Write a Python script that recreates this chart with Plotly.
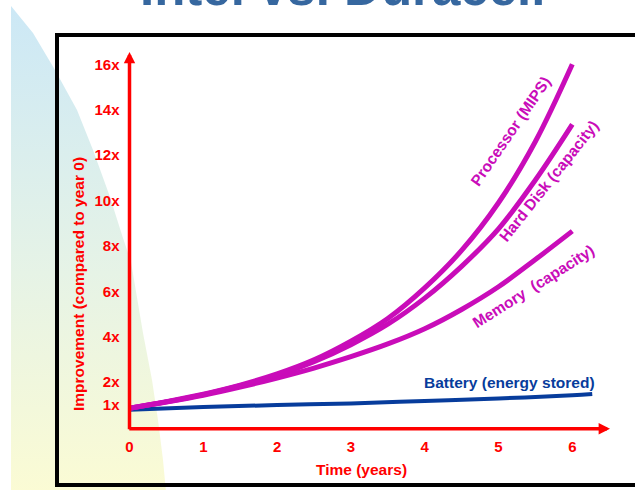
import plotly.graph_objects as go

# ---- data ----------------------------------------------------------------
years = [0, 0.5, 1, 1.5, 2, 2.5, 3, 3.5, 4, 4.5, 5, 5.5, 6]
processor = [0.85, 1.14, 1.47, 1.87, 2.36, 2.98, 3.8, 4.8, 6.15, 7.8, 9.9, 12.6, 16.0]
hard_disk = [0.85, 1.13, 1.45, 1.84, 2.3, 2.9, 3.65, 4.55, 5.7, 7.1, 8.75, 10.9, 13.35]
memory = [0.85, 1.12, 1.42, 1.78, 2.18, 2.62, 3.12, 3.68, 4.35, 5.2, 6.2, 7.4, 8.65]

battery_years = [0, 1, 2, 3, 4, 5, 6, 6.27]
battery = [0.78, 0.9, 0.99, 1.06, 1.17, 1.28, 1.42, 1.48]

x_ticks = [0, 1, 2, 3, 4, 5, 6]
x_tick_text = ["0", "1", "2", "3", "4", "5", "6"]
y_ticks = [1, 2, 4, 6, 8, 10, 12, 14, 16]
y_tick_text = ["1x", "2x", "4x", "6x", "8x", "10x", "12x", "14x", "16x"]

# ---- page geometry (pixels) ---------------------------------------------
W, H = 635, 490
PX_X0, PX_PER_X = 129.5, 73.8      # pixel column of year 0, pixels per year
PX_Y0, PX_PER_Y = 427.5, 22.7      # pixel row of 0x, pixels per unit


def px_x(px):
    return (px - PX_X0) / PX_PER_X


def px_y(py):
    return (PX_Y0 - py) / PX_PER_Y


RED = "#ff0000"
MAGENTA = "#c90cb9"
BLUE = "#073c9c"
FONT = "Liberation Sans, Arial, sans-serif"

fig = go.Figure()

# slide decoration: soft blue-to-yellow swoosh on the left
swoosh_px = [(11, 6), (33, 33), (55, 70), (77, 110), (93, 150), (110, 197),
             (122, 235), (131, 262), (143, 333), (152, 380), (158, 420),
             (163, 460), (166, 492), (11, 492), (11, 6)]
fig.add_trace(go.Scatter(
    x=[px_x(p[0]) for p in swoosh_px],
    y=[px_y(p[1]) for p in swoosh_px],
    mode="lines", line=dict(width=0), fill="toself",
    fillgradient=dict(type="vertical",
                      colorscale=[[0, "#fbfbd4"], [0.45, "#e6f3e6"],
                                  [1, "#cce8f6"]]),
    hoverinfo="skip", showlegend=False))

# series
fig.add_trace(go.Scatter(x=battery_years, y=battery, mode="lines",
                         line=dict(color=BLUE, width=4, shape="spline"),
                         showlegend=False, name="Battery"))
for vals, name in [(memory, "Memory"), (hard_disk, "Hard Disk"),
                   (processor, "Processor")]:
    fig.add_trace(go.Scatter(x=years, y=vals, mode="lines",
                             line=dict(color=MAGENTA, width=5, shape="spline"),
                             showlegend=False, name=name))

annotations = []

# axis lines with arrowheads
y_base = px_y(428.7)
annotations.append(dict(x=0, y=px_y(52), ax=0, ay=px_y(430.7),
                        xref="x", yref="y", axref="x", ayref="y", text="",
                        showarrow=True, arrowhead=2, arrowsize=0.65,
                        arrowwidth=3.5, arrowcolor=RED))
annotations.append(dict(x=px_x(610), y=y_base, ax=px_x(127.8), ay=y_base,
                        xref="x", yref="y", axref="x", ayref="y", text="",
                        showarrow=True, arrowhead=2, arrowsize=0.65,
                        arrowwidth=3.5, arrowcolor=RED))

# axis titles
annotations.append(dict(x=px_x(78), y=px_y(284), xref="x", yref="y",
                        text="Improvement (compared to year 0)", textangle=-90,
                        showarrow=False,
                        font=dict(family=FONT, size=15.5, color=RED,
                                  weight="bold")))
annotations.append(dict(x=px_x(361), y=px_y(469), xref="x", yref="y",
                        text="Time (years)", showarrow=False,
                        font=dict(family=FONT, size=15.5, color=RED,
                                  weight="bold")))

# series labels
for txt, cx, cy, ang, col in [
        ("Processor (MIPS)", 510, 131, -55.5, MAGENTA),
        ("Hard Disk (capacity)", 548, 181, -51.5, MAGENTA),
        ("Memory  (capacity)", 533, 286, -32.4, MAGENTA),
        ("Battery (energy stored)", 509.5, 382, 0, BLUE)]:
    annotations.append(dict(x=px_x(cx), y=px_y(cy), xref="x", yref="y",
                            text=txt.replace("  ", "&nbsp; "), textangle=ang,
                            showarrow=False,
                            font=dict(family=FONT, size=15.5, color=col,
                                      weight="bold")))

# slide title (runs off the top edge of the page)
annotations.append(dict(x=342 / W, y=1 + 43 / H, xref="paper", yref="paper",
                        yanchor="top", text="Intel vs. Duracell",
                        showarrow=False,
                        font=dict(family=FONT, size=51, color="#36679f",
                                  weight="bold")))

fig.update_layout(
    width=W, height=H,
    margin=dict(l=0, r=0, t=0, b=0),
    paper_bgcolor="white", plot_bgcolor="rgba(0,0,0,0)",
    annotations=annotations,
    shapes=[dict(type="rect", xref="paper", yref="paper",
                 x0=57 / W, x1=700 / W, y0=1 - 485 / H, y1=1 - 35 / H,
                 line=dict(color="black", width=4), layer="above")],
    xaxis=dict(range=[px_x(0), px_x(W)], tickvals=x_ticks,
               ticktext=x_tick_text, showgrid=False, zeroline=False,
               showline=False, ticks="", anchor="free",
               position=1 - 428.7 / H, ticklabelstandoff=7,
               tickfont=dict(family=FONT, size=15, color=RED, weight="bold"),
               fixedrange=True),
    yaxis=dict(range=[px_y(H), px_y(0)], tickvals=y_ticks,
               ticktext=y_tick_text, showgrid=False, zeroline=False,
               showline=False, ticks="", anchor="free",
               position=PX_X0 / W, ticklabelstandoff=10,
               tickfont=dict(family=FONT, size=15, color=RED, weight="bold"),
               fixedrange=True),
)

fig.write_html("out.html")
